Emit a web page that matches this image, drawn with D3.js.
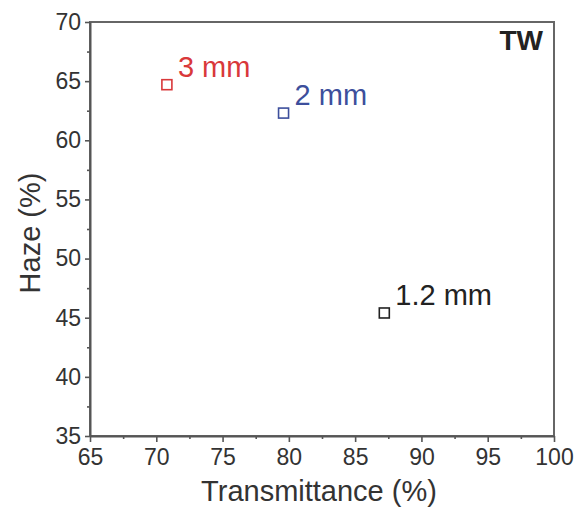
<!DOCTYPE html>
<html><head><meta charset="utf-8">
<script src="https://cdn.jsdelivr.net/npm/d3@7/dist/d3.min.js"></script>
<style>body{margin:0;background:#fff}svg{display:block}text{font-family:"Liberation Sans",Arial,sans-serif}</style>
</head><body>
<script>
const labels = ["3 mm", "2 mm", "1.2 mm"];
const transmittance = [70.8, 79.6, 87.2];
const haze = [64.7, 62.3, 45.4];
const colors = ["#d9383a", "#3d4f9c", "#222222"];
const xTicks = [65, 70, 75, 80, 85, 90, 95, 100];
const yTicks = [35, 40, 45, 50, 55, 60, 65, 70];

const W = 587, H = 517;
const m = {l: 90, t: 22, r: 33, b: 81};
const svg = d3.select("body").append("svg").attr("width", W).attr("height", H);
const x = d3.scaleLinear().domain([65, 100]).range([m.l, W - m.r]);
const y = d3.scaleLinear().domain([35, 70]).range([H - m.b, m.t]);
const axisColor = "#555";
const textColor = "#333";

// frame
svg.append("rect").attr("x", x(65)).attr("y", y(70))
  .attr("width", x(100) - x(65)).attr("height", y(35) - y(70))
  .attr("fill", "none").attr("stroke", "#666").attr("stroke-width", 2);

function styleAxis(g) {
  g.select(".domain").attr("stroke", axisColor).attr("stroke-width", 2);
  g.selectAll(".tick line").attr("stroke", axisColor).attr("stroke-width", 1.6);
  g.selectAll(".tick text").attr("fill", textColor).style("font-size", "23px");
}
const minorX = d3.range(67.5, 100, 5);
const minorY = d3.range(37.5, 70, 5);

const gx = svg.append("g").attr("transform", `translate(0,${y(35)})`)
  .call(d3.axisBottom(x).tickValues(xTicks).tickSize(6).tickSizeOuter(0).tickPadding(7));
styleAxis(gx);
svg.append("g").attr("transform", `translate(0,${y(35)})`)
  .call(d3.axisBottom(x).tickValues(minorX).tickSize(3).tickFormat(""))
  .call(g => { g.select(".domain").remove(); g.selectAll("line").attr("stroke", axisColor).attr("stroke-width", 1.6); });

const gy = svg.append("g").attr("transform", `translate(${x(65)},0)`)
  .call(d3.axisLeft(y).tickValues(yTicks).tickSize(5).tickSizeOuter(0).tickPadding(4));
styleAxis(gy);
svg.append("g").attr("transform", `translate(${x(65)},0)`)
  .call(d3.axisLeft(y).tickValues(minorY).tickSize(3).tickFormat(""))
  .call(g => { g.select(".domain").remove(); g.selectAll("line").attr("stroke", axisColor).attr("stroke-width", 1.6); });

// titles
svg.append("text").attr("x", (x(65) + x(100)) / 2 - 3).attr("y", 501)
  .attr("text-anchor", "middle").attr("fill", textColor).style("font-size", "29px")
  .text("Transmittance (%)");
svg.append("text").attr("transform", `translate(40,${(y(35) + y(70)) / 2 + 4}) rotate(-90)`)
  .attr("text-anchor", "middle").attr("fill", textColor).style("font-size", "29px")
  .text("Haze (%)");

svg.append("text").attr("x", x(100) - 11).attr("y", y(70) + 28)
  .attr("text-anchor", "end").attr("fill", "#222").style("font-size", "28px").style("font-weight", "bold")
  .text("TW");

// points
const data = labels.map((l, i) => ({l, t: transmittance[i], h: haze[i], c: colors[i]}));
const s = 10;
svg.selectAll("rect.pt").data(data).enter().append("rect").attr("class", "pt")
  .attr("x", d => x(d.t) - s / 2).attr("y", d => y(d.h) - s / 2)
  .attr("width", s).attr("height", s)
  .attr("fill", "none").attr("stroke", d => d.c).attr("stroke-width", 1.6);
svg.selectAll("text.lab").data(data).enter().append("text").attr("class", "lab")
  .attr("x", d => x(d.t) + 11).attr("y", d => y(d.h) - 8)
  .attr("fill", d => d.c).style("font-size", "29px")
  .text(d => d.l);
</script>
</body></html>
